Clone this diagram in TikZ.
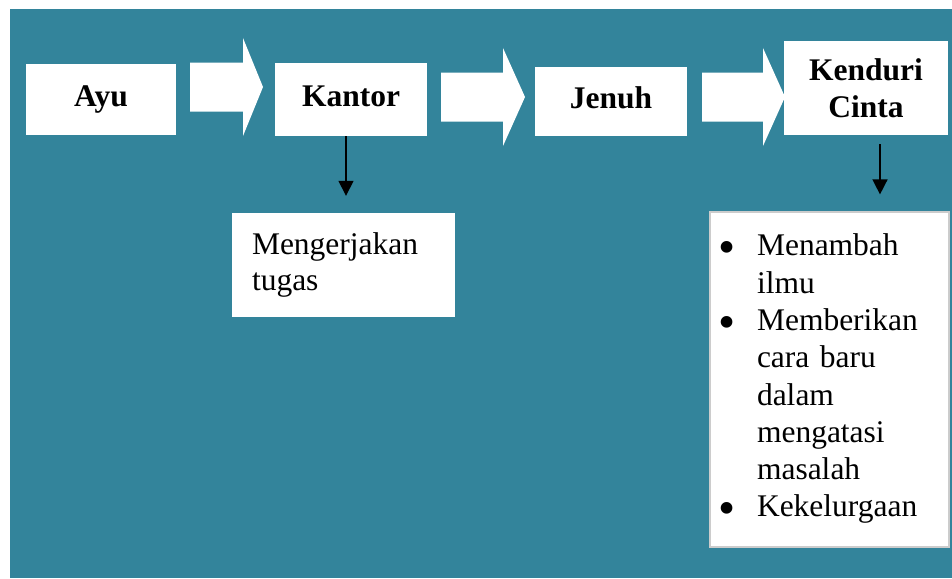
\documentclass[tikz,border=0pt]{standalone}
\usepackage{fontspec}
\setmainfont{Liberation Serif}
\usepackage{graphicx}
\usepackage{tikz}
\usepackage{xcolor}
\usetikzlibrary{arrows.meta}
\definecolor{bgteal}{HTML}{33849B}
\newcommand{\bulletmark}{\makebox[35pt][l]{\hspace{-4pt}\raisebox{-8pt}{\scalebox{1.55}{\textbullet}}}}
\newcommand{\bulletgap}{\hspace*{35pt}}

\begin{document}
\begin{tikzpicture}[x=1pt,y=-1pt,every node/.style={font=\fontsize{31.5}{36.5}\selectfont}]
    \tikzstyle{box}=[rectangle,fill=white,inner sep=0pt,align=center,font=\fontsize{31.5}{36.5}\selectfont\bfseries];
    \tikzstyle{one}=[text height=21pt,text depth=7pt];
    \tikzstyle{note}=[rectangle,fill=white,inner ysep=0pt,align=left];
    \tikzstyle{down}=[-{Triangle[length=15pt,width=15pt]},line width=1.5pt];
    \useasboundingbox (0,0) rectangle (952,578);
    \fill[bgteal] (10,9) rectangle (952,578);
    % top row
    \node[box,one,minimum width=150pt,minimum height=71pt] (ayu) at (101,99.5) {Ayu};
    \node[box,one,minimum width=152pt,minimum height=73pt] (kantor) at (351,99.5) {Kantor};
    \node[box,one,minimum width=152pt,minimum height=69pt] (jenuh) at (611,101.5) {Jenuh};
    \node[box,minimum width=164pt,minimum height=94pt] (kenduri) at (866,88) {Kenduri\\Cinta};
    \foreach \xa/\xb/\xc/\yc in {190/243/263/87, 441/503/525/97, 702/763/785/97}
      \fill[white] (\xa,\yc-24.5) -- (\xb,\yc-24.5) -- (\xb,\yc-49) -- (\xc,\yc)
        -- (\xb,\yc+49) -- (\xb,\yc+24.5) -- (\xa,\yc+24.5) -- cycle;
    % notes below
    \node[note,inner xsep=20pt,text width=183pt,minimum height=104pt] (kerja) at (343.5,265)
       {Mengerjakan\\tugas};
    \node[note,inner xsep=12pt,text width=215pt,minimum height=335pt,draw=gray!40,line width=1.2pt,
       font=\fontsize{31.5}{37.3}\selectfont] (daftar) at (829.5,379.5)
       {\bulletmark Menambah\\\bulletgap ilmu\\\bulletmark Memberikan\\\bulletgap cara baru\\
        \bulletgap dalam\\\bulletgap mengatasi\\\bulletgap masalah\\\bulletmark Kekelurgaan};
    \draw[down,shorten >=17pt] ([xshift=2.5pt]kerja.north |- kantor.south) -- ([xshift=2.5pt]kerja.north);
    \draw[down,shorten <=9pt,shorten >=17pt] ([xshift=14pt]kenduri.south) -- ([xshift=14pt]kenduri.south |- daftar.north);
\end{tikzpicture}
\end{document}
